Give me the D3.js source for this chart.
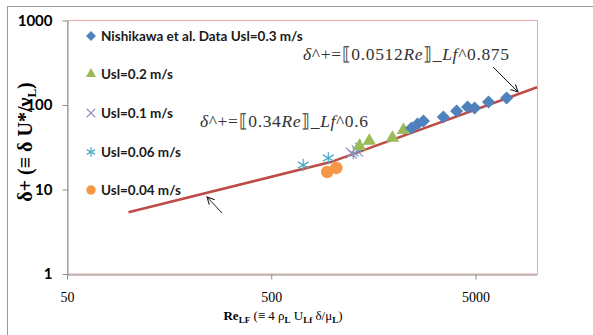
<!DOCTYPE html>
<html>
<head>
<meta charset="utf-8">
<script src="https://cdn.jsdelivr.net/npm/d3@7/dist/d3.min.js"></script>
<style>
  html, body { margin: 0; padding: 0; background: #fff; }
  svg { display: block; }
</style>
</head>
<body>
<svg id="chart" width="593" height="335"></svg>
<script>
// Film thickness in wall units vs. liquid film Reynolds number
const xTicks = [50, 500, 5000];
const yTicks = [1, 10, 100, 1000];

// Nishikawa et al. data, Usl = 0.3 m/s
const nishikawaRe    = [2430, 2600, 2780, 3480, 4040, 4570, 4950, 5790, 7100];
const nishikawaDelta = [53.4, 59.6, 64.7, 72.1, 84.9, 94.7, 92.1, 108.6, 121];
// Usl = 0.2 m/s
const usl02Re    = [1350, 1510, 1960, 2220];
const usl02Delta = [32.7, 37.5, 40.7, 50.6];
// Usl = 0.1 m/s
const usl01Re    = [1233, 1321];
const usl01Delta = [27.0, 28.6];
// Usl = 0.06 m/s
const usl006Re    = [717, 951, 1262, 1366];
const usl006Delta = [19.5, 23.6, 27.0, 32.7];
// Usl = 0.04 m/s
const usl004Re    = [940, 1041];
const usl004Delta = [16.1, 18.0];

// Correlation line: 0.34 Re^0.6 up to the crossover, 0.0512 Re^0.875 beyond it
const fitRe    = [100, 977, 10000];
const fitDelta = [5.39, 21.1, 161.9];

const seriesNames = [
  "Nishikawa et al. Data Usl=0.3 m/s",
  "Usl=0.2 m/s",
  "Usl=0.1 m/s",
  "Usl=0.06 m/s",
  "Usl=0.04 m/s"
];

const svg = d3.select("#chart");

// outer chart frame
svg.append("rect")
  .attr("x", 7.5).attr("y", 6.5)
  .attr("width", 620).attr("height", 360)
  .attr("fill", "#fff").attr("stroke", "#9a9a9a").attr("stroke-width", 1);

const x = d3.scaleLog().domain([50, 10000]).range([67, 537]);
const y = d3.scaleLog().domain([1, 1000]).range([274, 20.5]);

// plot-area border
svg.append("rect")
  .attr("x", 67.5).attr("y", 20.5)
  .attr("width", 537 - 67).attr("height", 274 - 20.5)
  .attr("fill", "none").attr("stroke", "#eba9a9").attr("stroke-width", 1);

// axes
const xAxis = d3.axisBottom(x).tickValues(xTicks).tickFormat(d3.format("d"))
  .tickSizeInner(5).tickSizeOuter(0).tickPadding(13);
const gx = svg.append("g").attr("transform", "translate(0,274.5)").call(xAxis);
gx.selectAll("path, line").attr("stroke", "#8c8c8c");
gx.selectAll("text").attr("font-family", "'Liberation Serif', serif")
  .attr("font-size", 14).attr("fill", "#000");

const yAxis = d3.axisLeft(y).tickValues(yTicks).tickFormat(d3.format("d"))
  .tickSizeInner(5).tickSizeOuter(0).tickPadding(10);
const gy = svg.append("g").attr("transform", "translate(67.5,0)").call(yAxis);
gy.selectAll("path, line").attr("stroke", "#8c8c8c");
gy.selectAll("text").attr("font-family", "Lato, sans-serif").attr("font-weight", "bold")
  .attr("font-size", 15).attr("fill", "#000");

// axis titles
const xt = svg.append("text")
  .attr("x", 283).attr("y", 320)
  .attr("text-anchor", "middle")
  .attr("font-family", "'Liberation Serif', serif").attr("font-weight", "bold")
  .attr("font-size", 13).attr("fill", "#000");
xt.append("tspan").text("Re");
xt.append("tspan").attr("font-size", 9).attr("dy", 3).text("LF");
xt.append("tspan").attr("dy", -3).attr("font-weight", "normal").text(" (≡ 4 ρ");
xt.append("tspan").attr("font-size", 9).attr("dy", 3).text("L");
xt.append("tspan").attr("dy", -3).attr("font-weight", "normal").text(" U");
xt.append("tspan").attr("font-size", 9).attr("dy", 3).text("Lf");
xt.append("tspan").attr("dy", -3).attr("font-weight", "normal").text(" δ/μ");
xt.append("tspan").attr("font-size", 9).attr("dy", 3).text("L");
xt.append("tspan").attr("dy", -3).attr("font-weight", "normal").text(")");

const yt = svg.append("text")
  .attr("transform", "translate(32,142) rotate(-90)")
  .attr("text-anchor", "middle")
  .attr("font-family", "'Liberation Serif', serif").attr("font-weight", "bold")
  .attr("font-size", 20).attr("fill", "#000");
yt.append("tspan").text("δ+ (≡ δ U*/ν");
yt.append("tspan").attr("font-size", 13).attr("dy", 4).text("L");
yt.append("tspan").attr("dy", -4).text(")");

// correlation line
const line = d3.line().x((d, i) => x(fitRe[i])).y((d, i) => y(fitDelta[i]));
svg.append("path")
  .attr("d", line(fitRe))
  .attr("fill", "none").attr("stroke", "#be4b48").attr("stroke-width", 2.6);

// marker shapes
const colors = ["#4f81bd", "#9bbb59", "#8064a2", "#4bacc6", "#f79646"];
function drawMarker(g, kind, cx, cy, s) {
  const c = colors[kind];
  if (kind === 0) {
    g.append("path").attr("d", d3.symbol(d3.symbolSquare, s * s * 0.55)())
      .attr("transform", `translate(${cx},${cy}) rotate(45)`).attr("fill", c);
  } else if (kind === 1) {
    g.append("path").attr("d", d3.symbol(d3.symbolTriangle, s * s * 0.5)())
      .attr("transform", `translate(${cx},${cy})`).attr("fill", c);
  } else if (kind === 2) {
    const h = s * 0.45;
    g.append("path").attr("d", `M${-h},${-h}L${h},${h}M${-h},${h}L${h},${-h}`)
      .attr("transform", `translate(${cx},${cy})`)
      .attr("stroke", "#a08cc0").attr("stroke-width", 1.2).attr("fill", "none");
  } else if (kind === 3) {
    const h = s * 0.5;
    const d = h * 0.87;
    g.append("path")
      .attr("d", `M0,${-h}L0,${h}M${-d},${-h * 0.5}L${d},${h * 0.5}M${-d},${h * 0.5}L${d},${-h * 0.5}`)
      .attr("transform", `translate(${cx},${cy})`)
      .attr("stroke", c).attr("stroke-width", 1.2).attr("fill", "none");
  } else {
    g.append("circle").attr("cx", cx).attr("cy", cy).attr("r", s * 0.5).attr("fill", c);
  }
}

const seriesRe = [nishikawaRe, usl02Re, usl01Re, usl006Re, usl004Re];
const seriesDelta = [nishikawaDelta, usl02Delta, usl01Delta, usl006Delta, usl004Delta];
const gPts = svg.append("g");
// draw back-to-front so the Nishikawa set sits on top
[4, 3, 2, 1, 0].forEach(k => {
  seriesRe[k].forEach((re, i) => drawMarker(gPts, k, x(re), y(seriesDelta[k][i]), 12.5));
});

// legend
const legend = svg.append("g");
const legendY = [36, 74, 113, 152, 190];
seriesNames.forEach((name, k) => {
  drawMarker(legend, k, 91, legendY[k], 9.5);
  legend.append("text")
    .attr("x", 101).attr("y", legendY[k]).attr("dy", "0.35em")
    .attr("font-family", "Lato, sans-serif").attr("font-weight", "bold")
    .attr("font-size", 13.5).attr("fill", "#1a1a1a").text(name);
});

// correlation annotations
function formula(xp, yp, coef, expo, len) {
  const t = svg.append("text").attr("x", xp).attr("y", yp)
    .attr("font-family", "'Liberation Serif', 'DejaVu Serif', serif")
    .attr("font-size", 17.5).attr("fill", "#333")
    .attr("textLength", len).attr("lengthAdjust", "spacing");
  t.append("tspan").attr("font-style", "italic").text("δ");
  t.append("tspan").text("^+=⟦" + coef);
  t.append("tspan").attr("font-style", "italic").text("Re");
  t.append("tspan").text("⟧_");
  t.append("tspan").attr("font-style", "italic").text("Lf");
  t.append("tspan").text("^" + expo);
}
formula(303, 60, "0.0512", "0.875", 206);
formula(200, 127, "0.34", "0.6", 168);

// arrows
const defs = svg.append("defs");
defs.append("marker").attr("id", "open-arrow")
  .attr("viewBox", "0 0 10 10").attr("refX", 9).attr("refY", 5)
  .attr("markerWidth", 9).attr("markerHeight", 9).attr("markerUnits", "userSpaceOnUse")
  .attr("orient", "auto")
  .append("path").attr("d", "M1,1L9,5L1,9")
  .attr("fill", "none").attr("stroke", "#222").attr("stroke-width", 1.2);

[[493, 67, 518, 92], [222, 213, 207, 197]].forEach(a => {
  svg.append("line")
    .attr("x1", a[0]).attr("y1", a[1]).attr("x2", a[2]).attr("y2", a[3])
    .attr("stroke", "#222").attr("stroke-width", 1)
    .attr("marker-end", "url(#open-arrow)");
});
</script>
</body>
</html>
